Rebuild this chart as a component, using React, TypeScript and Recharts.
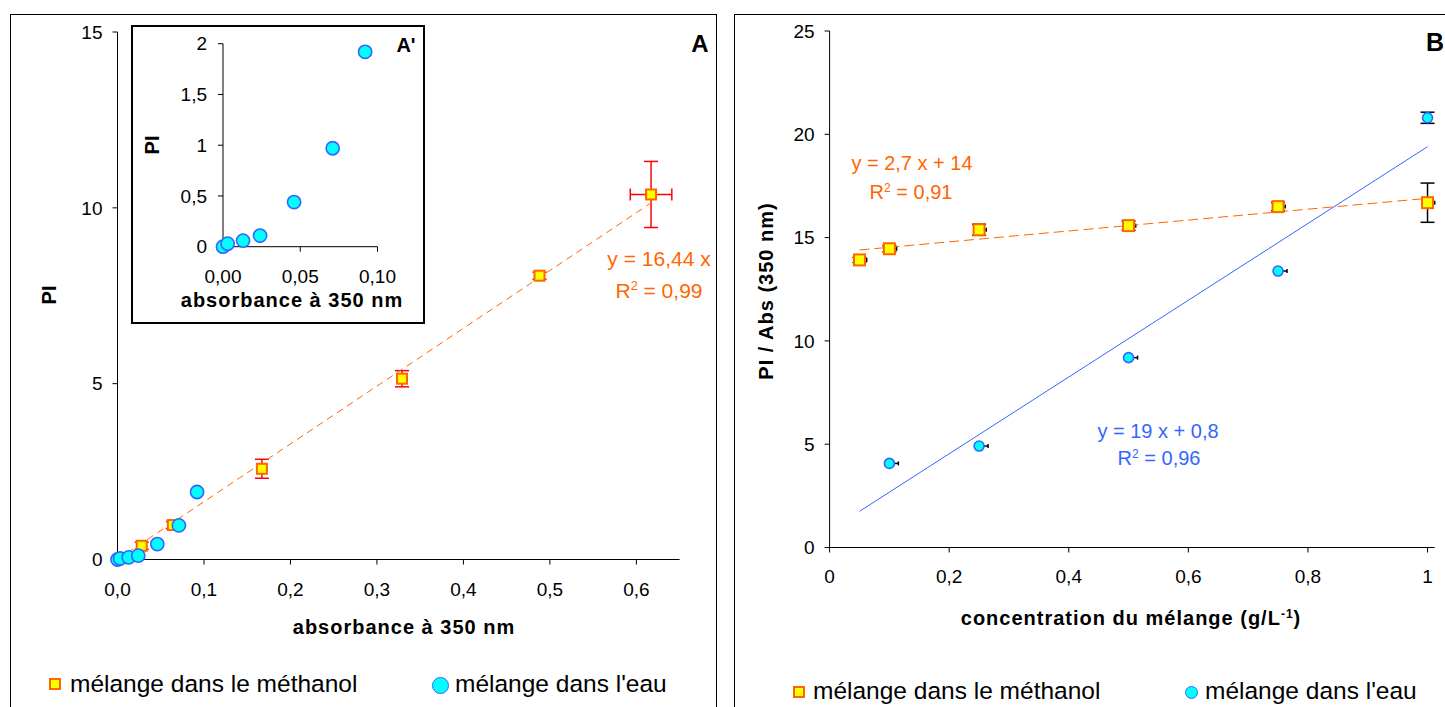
import React from 'react';
import { ScatterChart, Scatter, XAxis, YAxis, ErrorBar } from 'recharts';

const FONT = 'Arial, "Liberation Sans", sans-serif';
const ORANGE = '#FF6600';
const BLUE = '#3366FF';
const CYAN = '#00FFFF';
const YELLOW = '#FFFF00';
const RED = '#FF0000';

// ---- panel A : PI vs absorbance ----
const methAbsA = [0.028, 0.064, 0.167, 0.329, 0.488, 0.617];
const methPiA = [0.39, 0.98, 2.58, 5.14, 8.07, 10.38];
const methPiErrA = [0.1, 0.1, 0.27, 0.23, 0.1, 0.94];
const methAbsErrA = [0, 0, 0, 0, 0, 0.024];

const waterAbsA = [0, 0.003, 0.013, 0.024, 0.046, 0.071, 0.092];
const waterPiA = [0, 0.03, 0.06, 0.11, 0.44, 0.97, 1.92];

const fitAbsA = [0, 0.62];
const fitPiA = [0, 10.19];

const xTicksA = [0, 0.1, 0.2, 0.3, 0.4, 0.5, 0.6];
const yTicksA = [0, 5, 10, 15];
const xTicksInset = [0, 0.05, 0.1];
const yTicksInset = [0, 0.5, 1, 1.5, 2];

// ---- panel B : PI/Abs vs concentration ----
const concMethB = [0.05, 0.1, 0.25, 0.5, 0.75, 1];
const ratioMethB = [13.92, 14.46, 15.38, 15.58, 16.5, 16.69];
const ratioMethErrB = [0.12, 0.15, 0.27, 0.22, 0.2, 0.95];

const concWaterB = [0.1, 0.25, 0.5, 0.75, 1];
const ratioWaterB = [4.07, 4.91, 9.19, 13.38, 20.8];
const concWaterErrB = [0.015, 0.015, 0.015, 0.015, 0];
const ratioWaterErrB = [0, 0, 0, 0, 0.27];

const fitConcB = [0.05, 1];
const fitMethB = [14.4, 16.9];
const fitWaterB = [1.75, 19.4];

const xTicksB = [0, 0.2, 0.4, 0.6, 0.8, 1];
const yTicksB = [0, 5, 10, 15, 20, 25];

const methA = methAbsA.map((x, i) => ({ x, y: methPiA[i], ey: methPiErrA[i], ex: methAbsErrA[i] }));
const waterA = waterAbsA.map((x, i) => ({ x, y: waterPiA[i] }));
const fitA = fitAbsA.map((x, i) => ({ x, y: fitPiA[i] }));
const methB = concMethB.map((x, i) => ({ x, y: ratioMethB[i], ey: ratioMethErrB[i], ex: [0, 0.012] }));
const waterB = concWaterB.map((x, i) => ({ x, y: ratioWaterB[i], ey: ratioWaterErrB[i], ex: [0, concWaterErrB[i]] }));
const fitMB = fitConcB.map((x, i) => ({ x, y: fitMethB[i] }));
const fitWB = fitConcB.map((x, i) => ({ x, y: fitWaterB[i] }));

const comma = (d?: number) => (v: number) => (d === undefined ? String(v) : v.toFixed(d)).replace('.', ',');

const square = (s: number) => (p: any) => (
  <rect x={p.cx - s / 2} y={p.cy - s / 2} width={s} height={s} fill={YELLOW} stroke={ORANGE} strokeWidth={2} />
);
const dot = (r: number) => (p: any) => (
  <circle cx={p.cx} cy={p.cy} r={r} fill={CYAN} stroke={BLUE} strokeWidth={1.6} />
);
const noDot = () => <g />;

const tick = { fontSize: 19, fill: '#000', fontFamily: FONT };
const axisStroke = { stroke: '#000' };

const Txt = ({ x, y, size = 19, bold = false, color = '#000', rotate = 0, left = false, spacing = 0, children }: any) => (
  <div
    style={{
      position: 'absolute',
      left: x,
      top: y,
      transform: left ? 'translateY(-50%)' : `translate(-50%,-50%)${rotate ? ` rotate(${rotate}deg)` : ''}`,
      fontSize: size,
      fontWeight: bold ? 'bold' : 'normal',
      letterSpacing: spacing,
      color,
      whiteSpace: 'nowrap',
      lineHeight: 1,
      fontFamily: FONT,
    }}
  >
    {children}
  </div>
);

const sup = { fontSize: '0.6em', verticalAlign: '0.6em' };

const LegendSquare = ({ x, y, s }: any) => (
  <div style={{ position: 'absolute', left: x - s / 2, top: y - s / 2, width: s, height: s, boxSizing: 'border-box', background: YELLOW, border: `2px solid ${ORANGE}` }} />
);
const LegendDot = ({ x, y, s }: any) => (
  <div style={{ position: 'absolute', left: x - s / 2, top: y - s / 2, width: s, height: s, boxSizing: 'border-box', background: CYAN, border: `1.6px solid ${BLUE}`, borderRadius: '50%' }} />
);

export default function App() {
  return (
    <div style={{ position: 'absolute', left: 0, top: 0, width: 1445, height: 707, background: '#fff', overflow: 'hidden', fontFamily: FONT }}>
      {/* panel frames */}
      <div style={{ position: 'absolute', left: 10, top: 14, width: 707, height: 720, border: '1px solid #000', boxSizing: 'border-box' }} />
      <div style={{ position: 'absolute', left: 734, top: 14, width: 760, height: 720, border: '1px solid #000', boxSizing: 'border-box' }} />

      {/* panel A */}
      <div style={{ position: 'absolute', left: 0, top: 0 }}>
        <ScatterChart width={720} height={707} margin={{ top: 32, right: 40.4, bottom: 117.5, left: 57.5 }}>
          <XAxis type="number" dataKey="x" domain={[0, 0.65]} ticks={xTicksA} interval={0} tickFormatter={comma(1)}
            height={30} tickSize={5} tickMargin={18} tick={tick} axisLine={axisStroke} tickLine={axisStroke} />
          <YAxis type="number" dataKey="y" domain={[0, 15]} ticks={yTicksA} interval={0}
            width={60} tickSize={5} tickMargin={10} tick={tick} axisLine={axisStroke} tickLine={axisStroke} />
          <Scatter data={fitA} shape={noDot} line={{ stroke: ORANGE, strokeWidth: 1, strokeDasharray: '7 5' }} isAnimationActive={false} />
          <Scatter data={methA} shape={square(10)} isAnimationActive={false}>
            <ErrorBar dataKey="ey" direction="y" width={7} stroke={RED} strokeWidth={1.5} isAnimationActive={false} />
            <ErrorBar dataKey="ex" direction="x" width={6} stroke={RED} strokeWidth={1.5} isAnimationActive={false} />
          </Scatter>
          <Scatter data={waterA} shape={dot(6.6)} isAnimationActive={false} />
        </ScatterChart>
      </div>

      {/* inset A' */}
      <div style={{ position: 'absolute', left: 131, top: 25, width: 294, height: 299, border: '2px solid #000', boxSizing: 'border-box', background: '#fff' }} />
      <div style={{ position: 'absolute', left: 131, top: 25 }}>
        <ScatterChart width={293} height={298} margin={{ top: 18.7, right: 46.5, bottom: 51.3, left: 52 }}>
          <XAxis type="number" dataKey="x" domain={[0, 0.1]} ticks={xTicksInset} interval={0} tickFormatter={comma(2)}
            height={25} tickSize={5} tickMargin={18} tick={tick} axisLine={axisStroke} tickLine={axisStroke} />
          <YAxis type="number" dataKey="y" domain={[0, 2]} ticks={yTicksInset} interval={0} tickFormatter={comma()}
            width={40} tickSize={5} tickMargin={11} tick={tick} axisLine={axisStroke} tickLine={axisStroke} />
          <Scatter data={waterA} shape={dot(6.6)} isAnimationActive={false} />
        </ScatterChart>
      </div>
      <Txt x={152} y={145} size={20} bold rotate={-90}>PI</Txt>
      <Txt x={292} y={300} size={20} spacing={1} bold>absorbance à 350 nm</Txt>
      <Txt x={406} y={45} size={20} bold>A'</Txt>

      <Txt x={700} y={44} size={24} bold>A</Txt>
      <Txt x={49} y={295} size={20} bold rotate={-90}>PI</Txt>
      <Txt x={404} y={627} size={20} spacing={1} bold>absorbance à 350 nm</Txt>
      <Txt x={659} y={258} size={21} color={ORANGE}>y = 16,44 x</Txt>
      <Txt x={659} y={290} size={21} color={ORANGE}>R<span style={sup}>2</span> = 0,99</Txt>

      <LegendSquare x={55} y={684} s={12} />
      <Txt x={70} y={684} size={24.5} left>mélange dans le méthanol</Txt>
      <LegendDot x={440} y={685} s={17} />
      <Txt x={455} y={684} size={24.5} left>mélange dans l'eau</Txt>

      {/* panel B */}
      <div style={{ position: 'absolute', left: 720, top: 0 }}>
        <ScatterChart width={725} height={707} margin={{ top: 31, right: 10.3, bottom: 129.5, left: 59.6 }}>
          <XAxis type="number" dataKey="x" domain={[0, 1]} ticks={xTicksB} interval={0} tickFormatter={comma()}
            height={30} tickSize={5} tickMargin={17} tick={tick} axisLine={axisStroke} tickLine={axisStroke} />
          <YAxis type="number" dataKey="y" domain={[0, 25]} ticks={yTicksB} interval={0}
            width={50} tickSize={5} tickMargin={10} tick={tick} axisLine={axisStroke} tickLine={axisStroke} />
          <Scatter data={fitMB} shape={noDot} line={{ stroke: ORANGE, strokeWidth: 1, strokeDasharray: '10 5' }} isAnimationActive={false} />
          <Scatter data={fitWB} shape={noDot} line={{ stroke: BLUE, strokeWidth: 1 }} isAnimationActive={false} />
          <Scatter data={methB} shape={square(11)} isAnimationActive={false}>
            <ErrorBar dataKey="ey" direction="y" width={7} stroke="#000" strokeWidth={1.5} isAnimationActive={false} />
            <ErrorBar dataKey="ex" direction="x" width={2} stroke="#000" strokeWidth={1.5} isAnimationActive={false} />
          </Scatter>
          <Scatter data={waterB} shape={dot(5)} isAnimationActive={false}>
            <ErrorBar dataKey="ey" direction="y" width={7} stroke="#000" strokeWidth={1.5} isAnimationActive={false} />
            <ErrorBar dataKey="ex" direction="x" width={2} stroke="#000" strokeWidth={1.5} isAnimationActive={false} />
          </Scatter>
        </ScatterChart>
      </div>
      <Txt x={1435} y={42} size={25} bold>B</Txt>
      <Txt x={766} y={291} size={20} spacing={1} bold rotate={-90}>PI / Abs (350 nm)</Txt>
      <Txt x={1131} y={618} size={20} spacing={1} bold>concentration du mélange (g/L<span style={sup}>-1</span>)</Txt>
      <Txt x={912} y={163} size={20} color={ORANGE}>y = 2,7 x + 14</Txt>
      <Txt x={911} y={192} size={20} color={ORANGE}>R<span style={sup}>2</span> = 0,91</Txt>
      <Txt x={1158} y={431} size={20} color={BLUE}>y = 19 x + 0,8</Txt>
      <Txt x={1159} y={458} size={20} color={BLUE}>R<span style={sup}>2</span> = 0,96</Txt>

      <LegendSquare x={799} y={692} s={12} />
      <Txt x={813} y={691} size={24.5} left>mélange dans le méthanol</Txt>
      <LegendDot x={1191} y={692} s={13} />
      <Txt x={1205} y={691} size={24.5} left>mélange dans l'eau</Txt>
    </div>
  );
}
